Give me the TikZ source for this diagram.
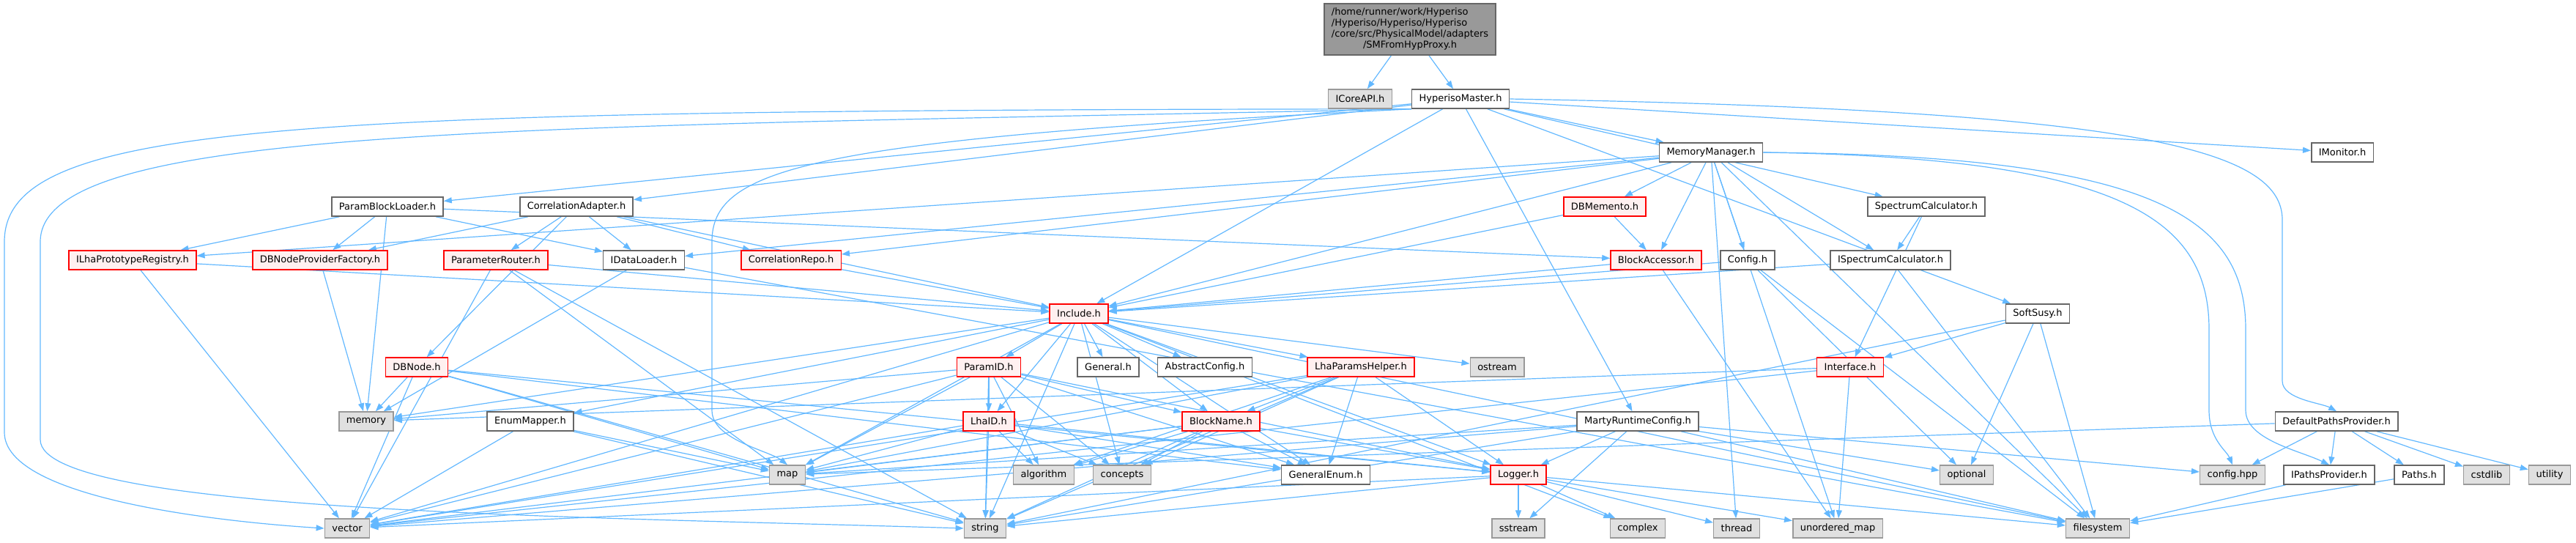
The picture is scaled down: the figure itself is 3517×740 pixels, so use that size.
\documentclass[tikz,border=0pt]{standalone}
\usepackage{fontspec}
\setmainfont{DejaVu Sans}
\usepackage{tikz}
\usetikzlibrary{arrows.meta}
\definecolor{edgeblue}{RGB}{99,184,255}
\definecolor{boxgray}{HTML}{666666}
\definecolor{extborder}{HTML}{999999}
\definecolor{extfill}{HTML}{E0E0E0}
\definecolor{redfill}{HTML}{FFF0F0}
\definecolor{rootfill}{HTML}{999999}
\pgfdeclarelayer{bg}
\pgfsetlayers{bg,main}

\begin{document}
\begin{tikzpicture}[x=1pt, y=-1pt,
  box/.style={draw, line width=1.5pt, minimum height=26pt, inner xsep=10pt, inner ysep=0pt, font=\fontsize{13}{15}\selectfont},
  whitebox/.style={box, draw=boxgray, fill=white},
  redbox/.style={box, draw=red, fill=redfill},
  extbox/.style={box, draw=extborder, fill=extfill},
  rootbox/.style={box, draw=boxgray, fill=rootfill, inner ysep=5pt},
  edge/.style={draw=edgeblue, line width=1.2pt, -{Triangle[length=11pt,width=8pt]}}]
\useasboundingbox (0,0) rectangle (3517,740);

%%%%% Files %%%%%
\node[rootbox] (root) at (1925,40) {\begin{tabular}{@{}l@{}}/home/runner/work/Hyperiso\\/Hyperiso/Hyperiso/Hyperiso\\/core/src/PhysicalModel/adapters\\\multicolumn{1}{@{}c@{}}{/SMFromHypProxy.h}\end{tabular}};

\foreach \n/\x/\y/\t in {hmaster/1994/135/HyperisoMaster.h, memmgr/2336/208/MemoryManager.h,
  imonitor/3198/208/IMonitor.h, pbloader/529/282/ParamBlockLoader.h, coradapter/787/282/CorrelationAdapter.h,
  speccalc/2630/282/SpectrumCalculator.h, idataloader/879/355/IDataLoader.h, config/2386/355/Config.h,
  ispeccalc/2581/355/ISpectrumCalculator.h, softsusy/2782/428/SoftSusy.h, general/1513/501/General.h,
  absconfig/1645/501/AbstractConfig.h, enummapper/724/575/EnumMapper.h, marty/2236/575/MartyRuntimeConfig.h,
  defpaths/3190/575/DefaultPathsProvider.h, genenum/1810/648/GeneralEnum.h, ipaths/3180/648/IPathsProvider.h,
  paths/3303/648/Paths.h}
  \node[whitebox] (\n) at (\x,\y) {\t};

\foreach \n/\x/\y/\t in {ilha/181/355/ILhaPrototypeRegistry.h, dbnpf/437/355/DBNodeProviderFactory.h,
  prouter/677/355/ParameterRouter.h, correpo/1080/355/CorrelationRepo.h, dbmemento/2191/282/DBMemento.h,
  blockacc/2261/355/BlockAccessor.h, include/1473/428/Include.h, dbnode/569/501/DBNode.h,
  paramid/1350/501/ParamID.h, lhahelper/1858/501/LhaParamsHelper.h, interface/2526/501/Interface.h,
  lhaid/1350/575/LhaID.h, blockname/1667/575/BlockName.h, logger/2073/648/Logger.h}
  \node[redbox] (\n) at (\x,\y) {\t};

\foreach \n/\x/\y/\t in {icore/1857/135/ICoreAPI.h, ostream/2044/501/ostream, memory/500/575/memory,
  map/1075/648/map, algorithm/1425/648/algorithm, concepts/1532/648/concepts, optional/2685/648/optional,
  confighpp/3048/648/config.hpp, cstdlib/3395/648/cstdlib, utility/3481/648/utility, vector/474/721/vector,
  string/1345/721/string, sstream/2073/721/sstream, complex/2236/721/complex, thread/2371/721/thread,
  umap/2509/721/unordered\_map, filesystem/2864/721/filesystem}
  \node[extbox] (\n) at (\x,\y) {\t};

%%%%% Includes %%%%%
\begin{pgfonlayer}{bg}
\foreach \a/\b in {root/icore, root/hmaster,
  hmaster/memmgr, hmaster/imonitor, hmaster/pbloader, hmaster/coradapter, hmaster/speccalc,
  hmaster/softsusy, hmaster/marty, hmaster/include,
  memmgr/dbmemento, memmgr/blockacc, memmgr/config, memmgr/ispeccalc, memmgr/include, memmgr/idataloader,
  memmgr/correpo, memmgr/ilha, memmgr/umap, memmgr/thread, memmgr/filesystem,
  pbloader/ilha, pbloader/dbnpf, pbloader/idataloader, pbloader/blockacc, pbloader/memory,
  coradapter/dbnpf, coradapter/prouter, coradapter/idataloader, coradapter/correpo, coradapter/dbnode,
  coradapter/include,
  ilha/include, ilha/vector, dbnpf/memory, prouter/include, prouter/map, prouter/vector, prouter/string,
  idataloader/memory, idataloader/filesystem, correpo/include,
  dbmemento/blockacc, dbmemento/include, blockacc/include, blockacc/umap,
  config/include, config/optional, config/filesystem, ispeccalc/include, ispeccalc/filesystem,
  speccalc/ispeccalc, speccalc/interface,
  softsusy/interface, softsusy/optional, softsusy/filesystem, softsusy/string,
  interface/memory, interface/vector, interface/umap,
  include/paramid, include/general, include/absconfig, include/lhahelper, include/ostream, include/lhaid,
  include/blockname, include/genenum, include/logger, include/concepts, include/string, include/vector,
  include/memory, include/map, include/complex, include/enummapper, include/filesystem,
  paramid/lhaid, paramid/blockname, paramid/genenum, paramid/logger, paramid/algorithm, paramid/concepts,
  paramid/string, paramid/map, paramid/memory, paramid/vector,
  lhaid/algorithm, lhaid/concepts, lhaid/string, lhaid/genenum, lhaid/logger, lhaid/map, lhaid/vector,
  blockname/genenum, blockname/logger, blockname/algorithm, blockname/concepts, blockname/string,
  blockname/map, blockname/vector,
  lhahelper/blockname, lhahelper/genenum, lhahelper/logger, lhahelper/algorithm, lhahelper/concepts,
  lhahelper/string, lhahelper/map, lhahelper/vector,
  logger/sstream, logger/complex, logger/thread, logger/umap, logger/string, logger/vector, logger/filesystem,
  marty/logger, marty/sstream, marty/string, marty/map, marty/vector, marty/confighpp, marty/optional,
  marty/filesystem,
  dbnode/memory, dbnode/map, dbnode/vector, dbnode/string, dbnode/genenum, dbnode/logger,
  enummapper/map, enummapper/vector, enummapper/string,
  defpaths/confighpp, defpaths/ipaths, defpaths/paths, defpaths/cstdlib, defpaths/utility, defpaths/map,
  ipaths/filesystem, paths/filesystem}
  \draw[edge] (\a) -- (\b);

% long ones round the sides
\draw[edge] (hmaster.south west) .. controls (400,150) and (6,165) .. (6,330) -- (6,590) .. controls (6,680) and (300,712) .. (vector.west);
\draw[edge] (hmaster.south west) .. controls (700,175) and (55,170) .. (55,330) -- (55,600) .. controls (55,700) and (800,705) .. (string.west);
\draw[edge] (hmaster.south west) .. controls (1100,190) and (972,230) .. (972,330) -- (972,560) .. controls (972,600) and (1050,615) .. (map.north);
\draw[edge] (memmgr.east) .. controls (2900,215) and (3016,300) .. (3016,450) -- (3016,560) .. controls (3016,600) and (3040,615) .. (confighpp.north);
\draw[edge] (memmgr.east) .. controls (2950,212) and (3066,300) .. (3066,450) -- (3066,560) .. controls (3066,600) and (3140,615) .. (ipaths.north);
\draw[edge] (hmaster.east) .. controls (2900,150) and (3116,200) .. (3116,300) -- (3116,520) .. controls (3116,545) and (3170,550) .. (defpaths.north);
\end{pgfonlayer}
\end{tikzpicture}
\end{document}
